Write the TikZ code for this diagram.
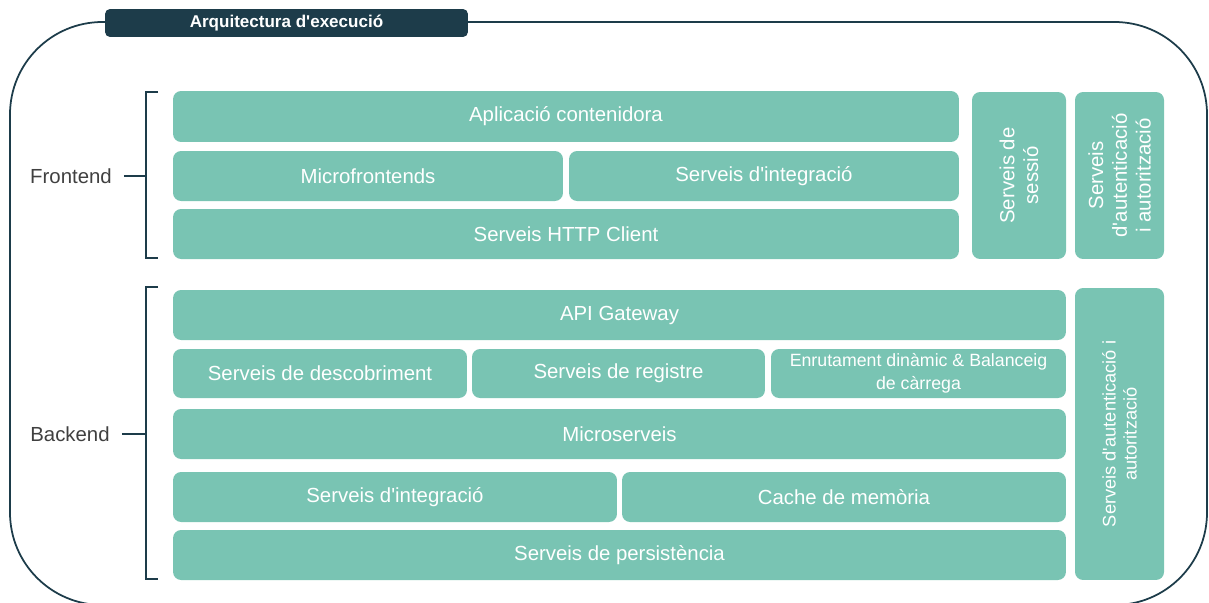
\documentclass[tikz,border=0pt]{standalone}
\usepackage{fontspec}
\setmainfont{Liberation Sans}[Ligatures=TeXOff]
\definecolor{verd}{HTML}{79C4B3}
\definecolor{fosc}{HTML}{1D3C4A}
\definecolor{gristext}{HTML}{404040}

\begin{document}
\begin{tikzpicture}[x=0.02cm, y=-0.02cm,
    bloc/.style={fill=verd, rounded corners=0.16cm, text=white, align=center,
        inner sep=1pt, font=\fontsize{11.6}{13.5}\selectfont},
    pestanya/.style={fill=fosc, rounded corners=0.1cm, text=white,
        font=\bfseries\fontsize{9.7}{11}\selectfont},
    etiqueta/.style={text=gristext, font=\fontsize{11.6}{13.5}\selectfont},
    claudator/.style={draw=fosc, line width=1.1pt}]
    \useasboundingbox (0,0) rectangle (1209,602);
    % marc exterior
    \draw[fosc, line width=1pt, rounded corners=1.85cm] (10,22) rectangle (1207,605);
    \node[pestanya, minimum width=7.26cm, minimum height=0.56cm] (titol) at (286.5,23) {Arquitectura d'execució};
    % frontend
    \node[bloc, minimum width=15.72cm, minimum height=1.02cm] (aplicacio) at (566,116.5) {Aplicació contenidora};
    \node[bloc, minimum width=7.8cm, minimum height=1cm] (microfront) at (368,176) {Microfrontends};
    \node[bloc, minimum width=7.8cm, minimum height=1cm] (integfront) at (764,176) {Serveis d'integració};
    \node[bloc, minimum width=15.72cm, minimum height=1cm] (http) at (566,234) {Serveis HTTP Client};
    \node[bloc, rotate=90, minimum width=3.34cm, minimum height=1.88cm] (sessio) at (1019,175.5) {Serveis de\\sessió};
    \node[bloc, rotate=90, minimum width=3.34cm, minimum height=1.78cm] (authfront) at (1119.5,175.5) {Serveis\\d'autenticació\\i autorització};
    % backend
    \node[bloc, minimum width=17.86cm, minimum height=1cm] (api) at (619.5,315) {API Gateway};
    \node[bloc, minimum width=5.88cm, minimum height=0.98cm] (descob) at (320,373.5) {Serveis de descobriment};
    \node[bloc, minimum width=5.86cm, minimum height=0.98cm] (registre) at (618.5,373.5) {Serveis de registre};
    \node[bloc, font=\fontsize{10.1}{13}\selectfont, minimum width=5.9cm, minimum height=0.98cm] (enrut) at (918.5,373.5) {Enrutament dinàmic \& Balanceig\\de càrrega};
    \node[bloc, minimum width=17.86cm, minimum height=1cm] (microserv) at (619.5,434) {Microserveis};
    \node[bloc, minimum width=8.88cm, minimum height=1cm] (integback) at (395,497) {Serveis d'integració};
    \node[bloc, minimum width=8.88cm, minimum height=1cm] (cache) at (844,497) {Cache de memòria};
    \node[bloc, minimum width=17.86cm, minimum height=1cm] (persist) at (619.5,555) {Serveis de persistència};
    \node[bloc, rotate=90, font=\fontsize{10.4}{12}\selectfont, minimum width=5.84cm, minimum height=1.78cm] (authback) at (1119.5,434) {Serveis d'autenticació i\\autorització};
    % claudators
    \node[etiqueta] (frontend) at (71,176) {Frontend};
    \node[etiqueta] (backend) at (70,434) {Backend};
    \coordinate (fbk) at (146,176);
    \coordinate (bbk) at (146,434);
    \draw[claudator] (158,92) -- (146,92) -- (146,258) -- (158,258);
    \draw[claudator] ([xshift=0.12cm]frontend.east) -- (fbk);
    \draw[claudator] (158,287) -- (146,287) -- (146,579) -- (158,579);
    \draw[claudator] ([xshift=0.12cm]backend.east) -- (bbk);
\end{tikzpicture}
\end{document}
